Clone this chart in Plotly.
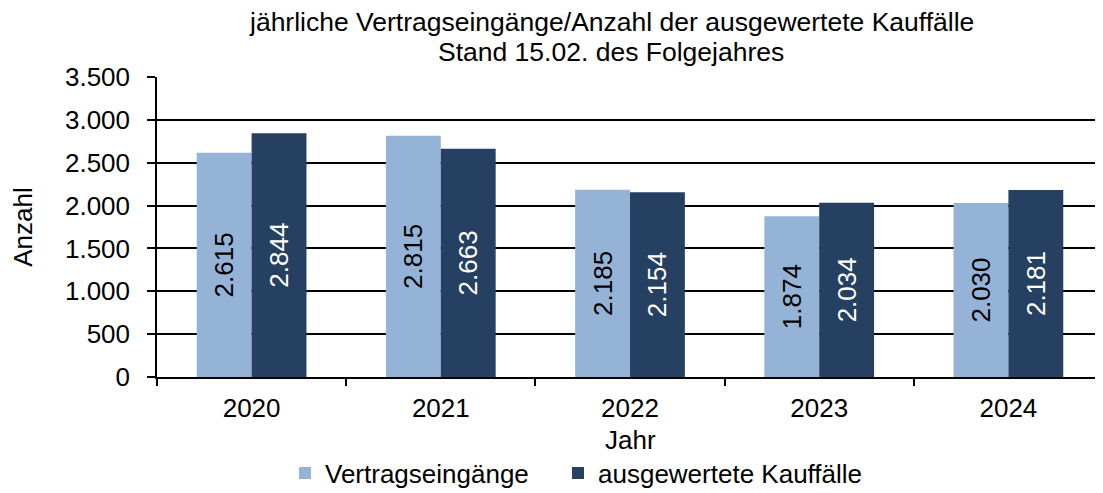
import plotly.graph_objects as go

years = ["2020", "2021", "2022", "2023", "2024"]
vertragseingaenge = [2615, 2815, 2185, 1874, 2030]
kauffaelle = [2844, 2663, 2154, 2034, 2181]
series_names = ["Vertragseingänge", "ausgewertete Kauffälle"]
title_lines = ["jährliche Vertragseingänge/Anzahl der ausgewertete Kauffälle", "Stand 15.02. des Folgejahres"]
x_title = "Jahr"
y_title = "Anzahl"
light = "#95B3D7"
dark = "#264061"
font = "Liberation Sans, Arial, sans-serif"
FS = 26

# page has an 8px body margin, so the figure is sized to fit within the window
W, H = 1095, 485
L, T, B, R = 149, 69, 116, 0
PW = W - L - R

fig = go.Figure()
fig.add_trace(go.Bar(
    x=years, y=vertragseingaenge, name=series_names[0],
    marker=dict(color=light, line=dict(width=0)),
    texttemplate="%{y:,d}", textposition="inside", insidetextanchor="middle",
    textangle=-90, textfont=dict(color="black", size=FS, family=font),
    legend="legend", showlegend=True,
))
fig.add_trace(go.Bar(
    x=years, y=kauffaelle, name=series_names[1],
    marker=dict(color=dark, line=dict(width=0)),
    texttemplate="%{y:,d}", textposition="inside", insidetextanchor="middle",
    textangle=-90, textfont=dict(color="white", size=FS, family=font),
    legend="legend2", showlegend=True,
))

for line, shift in zip(title_lines, [55, 25]):
    fig.add_annotation(
        text=line, xref="paper", yref="paper",
        x=(603 - L) / PW, y=1, xanchor="center", yanchor="middle",
        yshift=shift, showarrow=False, align="center",
        font=dict(size=26.5, family=font, color="black"),
    )

fig.add_annotation(
    text=x_title, xref="paper", yref="paper", x=0.5, y=0,
    xanchor="center", yanchor="middle", yshift=-63, showarrow=False,
    font=dict(size=FS, family=font, color="black"),
)

legend_common = dict(
    orientation="h", xanchor="left", yref="container", y=20 / H, yanchor="middle",
    font=dict(size=FS), itemwidth=30, bgcolor="rgba(0,0,0,0)", visible=True,
)

fig.update_layout(
    width=W, height=H,
    margin=dict(l=L, r=R, t=T, b=B, autoexpand=False),
    paper_bgcolor="white", plot_bgcolor="white",
    separators=",.",
    showlegend=True,
    font=dict(family=font, size=FS, color="black"),
    barmode="group", bargap=0.42, bargroupgap=0,
    xaxis=dict(
        range=[-0.5, 4.5], showline=True, linecolor="black", linewidth=1.5,
        ticks="outside", tickson="boundaries", ticklen=7, tickcolor="black", tickwidth=1.5,
        tickfont=dict(size=FS), ticklabelstandoff=7,
        showgrid=False, automargin=False,
    ),
    yaxis=dict(
        range=[0, 3500], dtick=500, tickformat=",d",
        showline=True, linecolor="black", linewidth=1.5,
        ticks="outside", ticklen=8, tickcolor="black", tickwidth=1.5,
        ticklabelstandoff=12,
        showgrid=True, gridcolor="black", gridwidth=1.5,
        zeroline=False, tickfont=dict(size=FS),
        title=dict(text=y_title, font=dict(size=FS), standoff=28),
        automargin=False,
    ),
    legend=dict(x=(277 - L) / PW, **legend_common),
    legend2=dict(x=(550 - L) / PW, **legend_common),
)

fig.write_html("out.html")
